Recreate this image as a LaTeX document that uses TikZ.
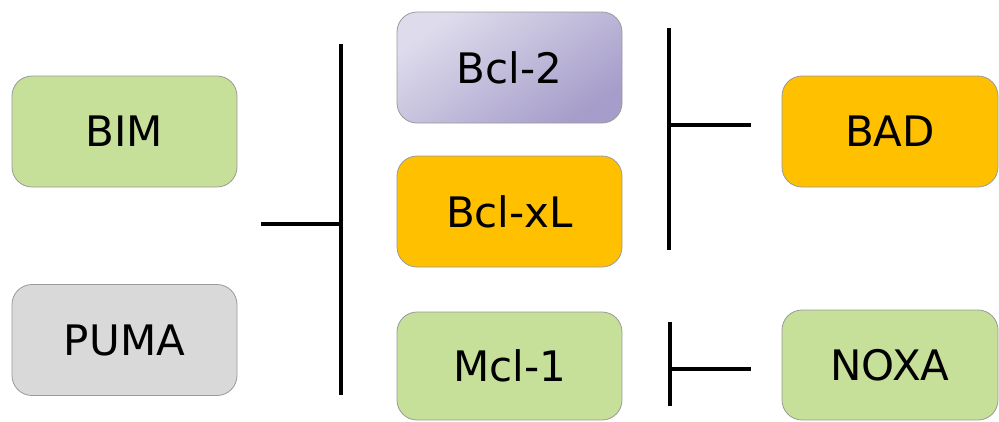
\documentclass[tikz,border=0pt]{standalone}
\usepackage{fontspec}
\setmainfont{DejaVu Sans}
\definecolor{boxgreen}{HTML}{C6DF99}
\definecolor{boxorange}{HTML}{FFC000}
\definecolor{boxgray}{HTML}{D9D9D9}
\definecolor{lavlight}{HTML}{DEDCEC}
\definecolor{lavdark}{HTML}{A69DCA}
\definecolor{boxedge}{HTML}{9A9A9A}
\begin{document}
\begin{tikzpicture}[x=1pt,y=-1pt,
  protbox/.style={rectangle, rounded corners=20pt, draw=boxedge, line width=0.8pt,
    minimum width=225pt, minimum height=111pt, inner sep=0pt,
    font=\fontsize{42}{50}\selectfont, text=black},
  inhib/.style={line width=3.8pt, draw=black}]
\useasboundingbox (0,0) rectangle (999,421);
\node[protbox, fill=boxgreen] (bim) at (124.5,131.5) {BIM};
\node[protbox, fill=boxgray] (puma) at (124.5,340) {PUMA};
\node[protbox, top color=lavlight, bottom color=lavdark, shading angle=35] (bcl2) at (509.5,67.5) {Bcl-2};
\node[protbox, fill=boxorange] (bclxl) at (509.5,211.5) {Bcl-xL};
\node[protbox, fill=boxgreen, minimum height=108pt] (mcl1) at (509.5,366) {Mcl-1};
\node[protbox, fill=boxorange, minimum width=216pt] (bad) at (890,131.5) {BAD};
\node[protbox, fill=boxgreen, minimum width=216pt, minimum height=110pt] (noxa) at (890,365) {NOXA};
% left inhibition
\coordinate (lvtop) at (341,44);
\coordinate (lvbot) at (341,395);
\coordinate (lhl) at (261,224);
\coordinate (lhr) at (341,224);
\draw[inhib] (lvtop) -- (lvbot);
\draw[inhib] (lhl) -- (lhr);
% BAD inhibition
\coordinate (rvtop) at (669,28);
\coordinate (rvbot) at (669,250);
\coordinate (rhl) at (669,125);
\coordinate (rhr) at (751,125);
\draw[inhib] (rvtop) -- (rvbot);
\draw[inhib] (rhl) -- (rhr);
% NOXA inhibition
\coordinate (nvtop) at (670,322);
\coordinate (nvbot) at (670,406);
\coordinate (nhl) at (670,369);
\coordinate (nhr) at (751,369);
\draw[inhib] (nvtop) -- (nvbot);
\draw[inhib] (nhl) -- (nhr);
\end{tikzpicture}
\end{document}
